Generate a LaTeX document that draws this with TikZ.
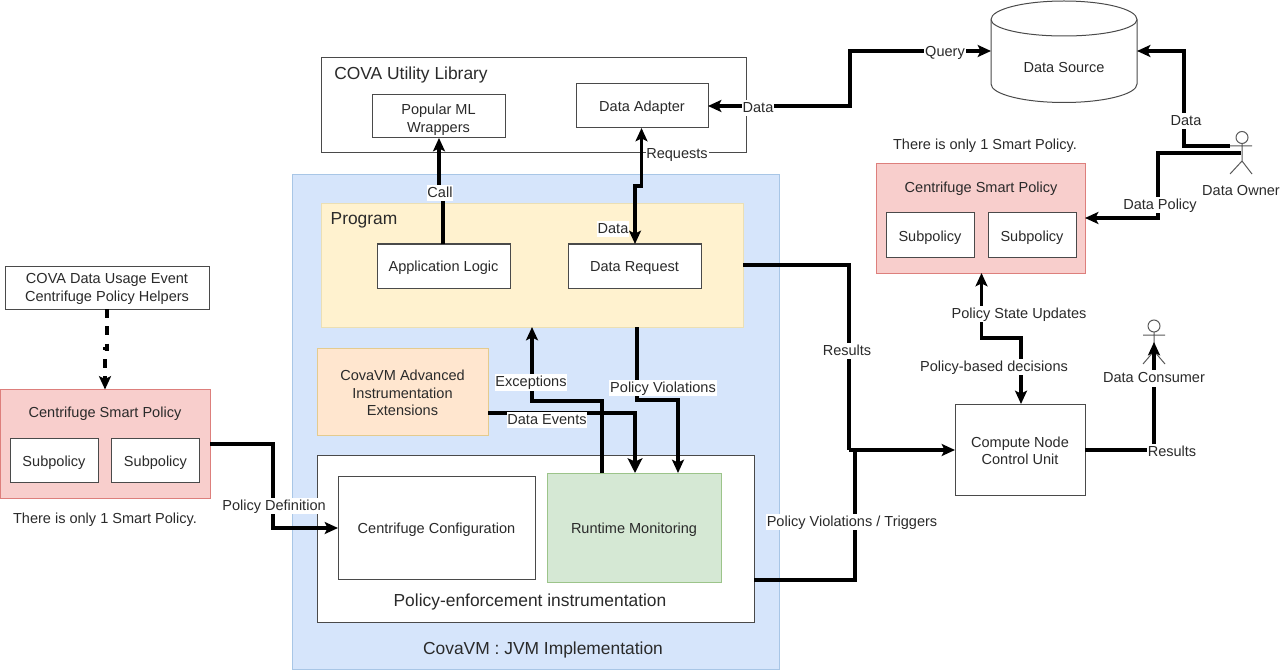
\documentclass[tikz,border=0pt]{standalone}
\usepackage{fontspec}
\setmainfont{Liberation Sans}
\usetikzlibrary{arrows.meta,shapes.geometric,calc}
\definecolor{txt}{HTML}{2A2A2A}
\definecolor{edge}{HTML}{4A4A4A}
\definecolor{bluef}{HTML}{D6E5FB}\definecolor{blued}{HTML}{A8C6E6}
\definecolor{yelf}{HTML}{FFF2CF}\definecolor{yeld}{HTML}{EBDFB4}
\definecolor{orf}{HTML}{FFE6CF}\definecolor{ord}{HTML}{E4CB8E}
\definecolor{grf}{HTML}{D5E8D4}\definecolor{grd}{HTML}{9CC48A}
\definecolor{redf}{HTML}{F8CECC}\definecolor{redd}{HTML}{DD7F7C}
\tikzset{
 x=0.75pt,y=-0.75pt,
 every node/.style={font=\fontsize{10.9}{13.1}\selectfont,text=txt,align=center,inner sep=0pt,outer sep=0pt},
 box/.style={draw=#1,line width=0.75pt,anchor=north west},
 box/.default=edge,
 conn/.style={line width=2.3pt,draw=black,miter limit=10},
 tip/.style={-{Stealth[length=10pt,width=9pt,inset=2.2pt]}},
 tipw/.style={-{Stealth[length=11pt,width=11pt,inset=2.4pt]}},
 tips/.style={{Stealth[length=10pt,width=9pt,inset=2.2pt]}-{Stealth[length=10pt,width=9pt,inset=2.2pt]}},
 lab/.style={fill=white,inner xsep=0.6pt,inner ysep=0pt,text height=9.2pt,text depth=3pt},
 big/.style={font=\fontsize{13.05}{15}\selectfont},
 actor/.style={draw=black!65,line width=0.75pt},
}
\begin{document}
\begin{tikzpicture}
\useasboundingbox (0,0) rectangle (1280,670);
% containers
\node[box=blued,fill=bluef,minimum width=487*0.75pt,minimum height=494*0.75pt] (jvm) at (292,175) {};
\node[box,fill=white,minimum width=425*0.75pt,minimum height=95*0.75pt] (util) at (321,58) {};
\node[box,fill=white,minimum width=133*0.75pt,minimum height=43*0.75pt] (ml) at (372,95) {};
\node[box,fill=white,minimum width=132*0.75pt,minimum height=44*0.75pt] (adapter) at (576,84) {};
\node[box=yeld,fill=yelf,minimum width=422*0.75pt,minimum height=123*0.75pt] (prog) at (321,204) {};
\node[box,fill=white,minimum width=133*0.75pt,minimum height=44*0.75pt] (app) at (377,244) {};
\node[box,fill=white,minimum width=133*0.75pt,minimum height=44*0.75pt] (req) at (568,244) {};
\node[box=ord,fill=orf,minimum width=171*0.75pt,minimum height=87*0.75pt] (ext) at (317,348) {};
\node[box,fill=white,minimum width=437*0.75pt,minimum height=167*0.75pt] (enf) at (317,455) {};
\node[box,fill=white,minimum width=197*0.75pt,minimum height=103*0.75pt] (cfg) at (338,476) {};
\node[box=grd,fill=grf,minimum width=174*0.75pt,minimum height=109*0.75pt] (run) at (547,473) {};
% left
\node[box,fill=white,minimum width=204.5*0.75pt,minimum height=43*0.75pt] (help) at (5,266) {};
\node[box=redd,fill=redf,minimum width=209.5*0.75pt,minimum height=109*0.75pt] (lsp) at (0.5,389.5) {};
\node[box,fill=white,minimum width=88*0.75pt,minimum height=44*0.75pt] (ls1) at (10,438) {};
\node[box,fill=white,minimum width=88*0.75pt,minimum height=44*0.75pt] (ls2) at (111.5,438) {};
% right
\node[box=redd,fill=redf,minimum width=209*0.75pt,minimum height=109*0.75pt] (rsp) at (876,164) {};
\node[box,fill=white,minimum width=88*0.75pt,minimum height=44*0.75pt] (rs1) at (886,213) {};
\node[box,fill=white,minimum width=88*0.75pt,minimum height=44*0.75pt] (rs2) at (988,213) {};
\node[box,fill=white,minimum width=130*0.75pt,minimum height=91*0.75pt] (cu) at (955,404) {};
% cylinder
\coordinate (dsW) at (991,51);
\coordinate (dsE) at (1137,51);
\draw[line width=0.75pt,draw=edge,fill=white] (991,19.5) arc[x radius=73,y radius=18.5,start angle=180,end angle=360] -- (1137,84) arc[x radius=73,y radius=18.5,start angle=0,end angle=180] -- cycle;
\draw[line width=0.75pt,draw=edge] (991,19.5) arc[x radius=73,y radius=16.5,start angle=180,end angle=0];
% actors
\draw[actor] (1242,137.5) circle[radius=6];
\draw[actor] (1242,143.5) -- (1242,161) (1230,146) -- (1252,146) (1230,174) -- (1242,161) -- (1252,174);
\coordinate (ownA) at (1230,146);
\coordinate (ownB) at (1241,153);
\draw[actor] (1154,326) circle[radius=6];
\draw[actor] (1154,332) -- (1154,351) (1143,335) -- (1165,335) (1143,364) -- (1154,351) -- (1165,364);
\coordinate (con) at (1154,342);
% connectors
\draw[conn,tips] (708,106) -- (850,106) -- (850,51) -- (dsW);
\draw[conn,tip] (ownA) -- (1184,146) -- (1184,51) -- (dsE);
\draw[conn,tip] (ownB) -- (1158,153) -- (1158,218) -- (1085,218);
\draw[conn,tip] (443,244) -- (443,192) -- (439,192) -- (439,138);
\draw[conn,tips] (641.5,128) -- (641.5,186) -- (635,186) -- (635,244);
\draw[conn] (743,265) -- (849,265) -- (849,450);
\draw[conn] (754,580) -- (855,580) -- (855,450);
\draw[conn,tip] (849,450) -- (955,450);
\draw[conn,tip] (1085,450) -- (1154,450) -- (con);
\draw[conn,tips] (981.5,273) -- (981.5,338) -- (1021,338) -- (1021,404);
\draw[conn,dash pattern=on 6.5pt off 6.5pt,tip] (107,309) -- (107,349) -- (105,349) -- (105,389.5);
\draw[conn,tip] (210,444) -- (273,444) -- (273,528) -- (338,528);
\draw[conn,tip] (602,473) -- (602,401) -- (532,401) -- (532,327);
\draw[conn,tipw] (488,413) -- (635,413) -- (635,473);
\draw[conn,tip] (637,327) -- (637,400) -- (678,400) -- (678,473);
\begin{scope}[yshift=-1.2pt]
% connector labels
\node[lab] (l1) at (758,106.5) {Data};
\node[lab] (l2) at (945,50.5) {Query};
\node[lab] (l3) at (1186,119.5) {Data};
\node[lab] (l4) at (1160,203.5) {Data Policy};
\node[lab] (l5) at (440,191.5) {Call};
\node[lab] (l6) at (677,152.5) {Requests};
\node[lab] (l7) at (613,227.5) {Data};
\node[lab] (l8) at (847,349.5) {Results};
\node[lab] (l9) at (852,520.5) {Policy Violations / Triggers};
\node[lab] (l10) at (1172,450.5) {Results};
\node[lab] (l11) at (1019,312.5) {Policy State Updates};
\node[lab] (l12) at (994,365.5) {Policy-based decisions};
\node[lab] (l13) at (274,504.5) {Policy Definition};
\node[lab] (l14) at (531,381) {Exceptions};
\node[lab] (l15) at (547,418.5) {Data Events};
\node[lab] (l16) at (663,386.5) {Policy Violations};
\node[lab] (l17) at (1154,377) {Data Consumer};
% text
\node (ds) at (1064,66) {Data Source};
\node (t1) at (438.5,118) {Popular ML\\Wrappers};
\node (t2) at (642,106) {Data Adapter};
\node[big] (t3) at (411,73) {COVA Utility Library};
\node[big] (t4) at (364,219) {Program};
\node (t5) at (443.5,266) {Application Logic};
\node (t6) at (634.5,266) {Data Request};
\node (t7) at (402.5,391.5) {CovaVM Advanced\\Instrumentation\\Extensions};
\node (t8) at (436.5,528) {Centrifuge Configuration};
\node (t9) at (634,528) {Runtime Monitoring};
\node[big] (t10) at (530,600) {Policy-enforcement instrumentation};
\node[big] (t11) at (543,648) {CovaVM : JVM Implementation};
\node (t12) at (107,287.5) {COVA Data Usage Event\\Centrifuge Policy Helpers};
\node (t13) at (105,412) {Centrifuge Smart Policy};
\node (t14) at (54,461) {Subpolicy};
\node (t15) at (155.5,461) {Subpolicy};
\node (t16) at (105,518) {There is only 1 Smart Policy.};
\node (t17) at (985,144) {There is only 1 Smart Policy.};
\node (t18) at (981,187) {Centrifuge Smart Policy};
\node (t19) at (930,236) {Subpolicy};
\node (t20) at (1032,236) {Subpolicy};
\node (t21) at (1020,449) {Compute Node\\Control Unit};
\node (t22) at (1241,189) {Data Owner};
\end{scope}
\end{tikzpicture}
\end{document}
